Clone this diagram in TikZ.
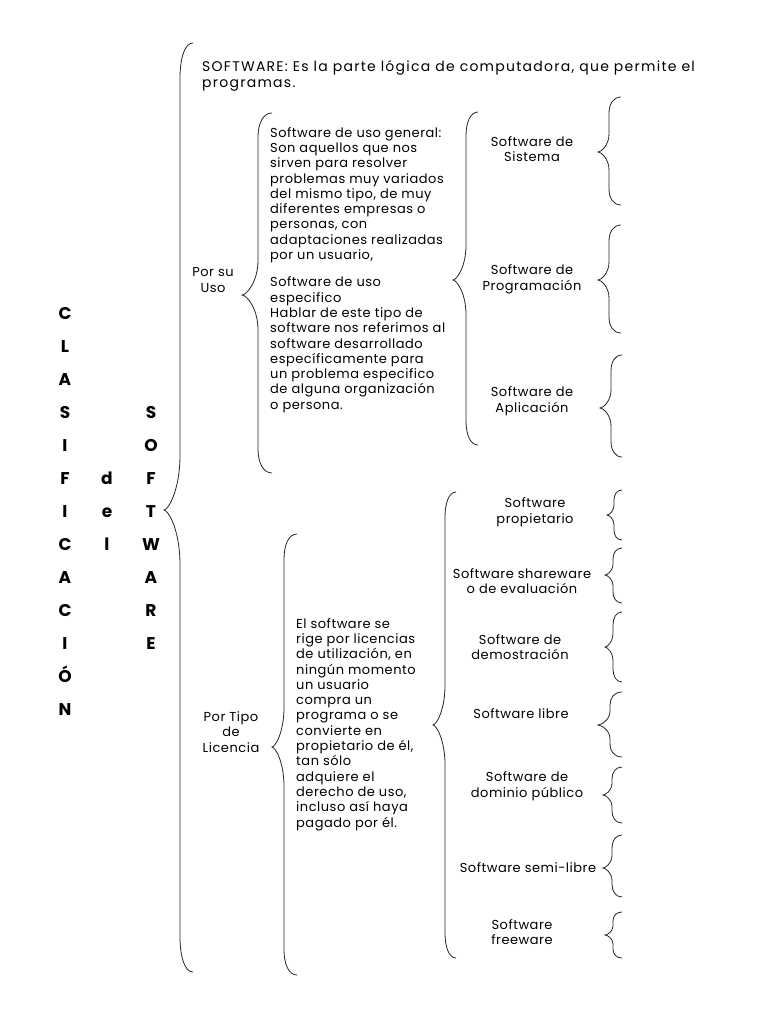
\documentclass[tikz,border=0pt]{standalone}
\usepackage{fontspec}
\setmainfont{Poppins}
\newfontfamily\widefont[LetterSpace=4]{Poppins}
\newfontfamily\widerfont[LetterSpace=9]{Poppins}
% #1 tip x, #2 line x, #3 end x, #4 top y, #5 tip y, #6 bottom y, #7 end curl height, #8 tip curl height
\newcommand\mybrace[8]{%
  \draw[brc] (#3,#4) .. controls ({#2+0.35*(#3-#2)},#4) and (#2,{#4+0.45*#7}) .. (#2,{#4+#7})
    -- (#2,{#5-#8}) .. controls (#2,{#5-0.35*#8}) and ({#1+0.25*(#2-#1)},#5) .. (#1,#5)
    .. controls ({#1+0.25*(#2-#1)},#5) and (#2,{#5+0.35*#8}) .. (#2,{#5+#8})
    -- (#2,{#6-#7}) .. controls (#2,{#6-0.45*#7}) and ({#2+0.35*(#3-#2)},#6) .. (#3,#6);}
\begin{document}
\begin{tikzpicture}[x=1pt,y=-1pt,
  txt/.style={inner sep=0pt, font=\widefont\fontsize{13}{15.3}\selectfont, align=left},
  lbl/.style={inner sep=0pt, font=\widefont\fontsize{13}{15.6}\selectfont, align=center},
  ttl/.style={inner sep=0pt, font=\fontsize{17}{17}\selectfont\bfseries, anchor=base},
  brc/.style={line width=0.8pt, black!85}]
\useasboundingbox[fill=white] (0,0) rectangle (768,1024);

% title letters
\foreach \l [count=\i] in {C,L,A,S,I,F,I,C,A,C,I,Ó,N}
  \node[ttl] (cl\i) at (65,{319+33*(\i-1)}) {\l};
\foreach \l [count=\i] in {d,e,l}
  \node[ttl] (de\i) at (107,{484+33*(\i-1)}) {\l};
\foreach \l [count=\i] in {S,O,F,T,W,A,R,E}
  \node[ttl] (sw\i) at (151,{418+33*(\i-1)}) {\l};

% main brace
\mybrace{164}{180}{193}{43}{510}{972}{35}{55}

% top definition
\node[txt, font=\widerfont\fontsize{14}{15.3}\selectfont, anchor=north west] (def) at (202,60.5) {SOFTWARE: Es la parte lógica de computadora, que permite el\\programas.};

% Por su uso
\node[lbl] (uso) at (213,280) {Por su\\Uso};
\mybrace{242}{258}{272}{113}{295}{473}{24}{35}
\node[txt, anchor=north west] (usotxt) at (270,127) {Software de uso general:\\Son aquellos que nos\\sirven para resolver\\problemas muy variados\\del mismo tipo, de muy\\diferentes empresas o\\personas, con\\adaptaciones realizadas\\por un usuario,\\[12pt]Software de uso\\especifico\\Hablar de este tipo de\\software nos referimos al\\software desarrollado\\específicamente para\\un problema especifico\\de alguna organización\\o persona.};

\mybrace{453}{466}{478}{112}{280}{445}{24}{35}
\node[lbl] (sis) at (532,149) {Software de\\Sistema};
\node[lbl] (prog) at (532,279) {Software de\\Programación};
\node[lbl] (apl) at (532,401) {Software de\\Aplicación};
\mybrace{598}{609}{621}{97}{152}{205}{16}{18}
\mybrace{598}{609}{621}{225}{280}{333}{16}{18}
\mybrace{600}{611}{622}{355}{408}{457}{16}{18}

% Por tipo de licencia
\node[lbl] (lic) at (231,732) {Por Tipo\\de\\Licencia};
\mybrace{272}{284}{297}{534}{747}{975}{25}{40}
\node[txt, anchor=north west] (lictxt) at (296,618) {El software se\\rige por licencias\\de utilización, en\\ningún momento\\un usuario\\compra un\\programa o se\\convierte en\\propietario de él,\\tan sólo\\adquiere el\\derecho de uso,\\incluso así haya\\pagado por él.};

\mybrace{433}{445}{456}{492}{725}{958}{25}{40}
\node[lbl] (t1) at (535,512) {Software\\propietario};
\node[lbl] (t2) at (522,581) {Software shareware\\o de evaluación};
\node[lbl] (t3) at (520,647) {Software de\\demostración};
\node[lbl] (t4) at (521,714) {Software libre};
\node[lbl] (t5) at (527,786) {Software de\\dominio público};
\node[lbl] (t6) at (528,868) {Software semi-libre};
\node[lbl] (t7) at (522,932) {Software\\freeware};

\mybrace{607}{614}{622}{490}{515}{540}{10}{10}
\mybrace{605}{613}{622}{548}{575}{603}{11}{11}
\mybrace{605}{613}{622}{612}{647}{682}{13}{14}
\mybrace{598}{610}{622}{692}{725}{757}{13}{14}
\mybrace{603}{612}{622}{767}{795}{823}{12}{12}
\mybrace{603}{612}{622}{835}{868}{897}{13}{13}
\mybrace{605}{613}{622}{912}{935}{958}{9}{9}
\end{tikzpicture}
\end{document}
